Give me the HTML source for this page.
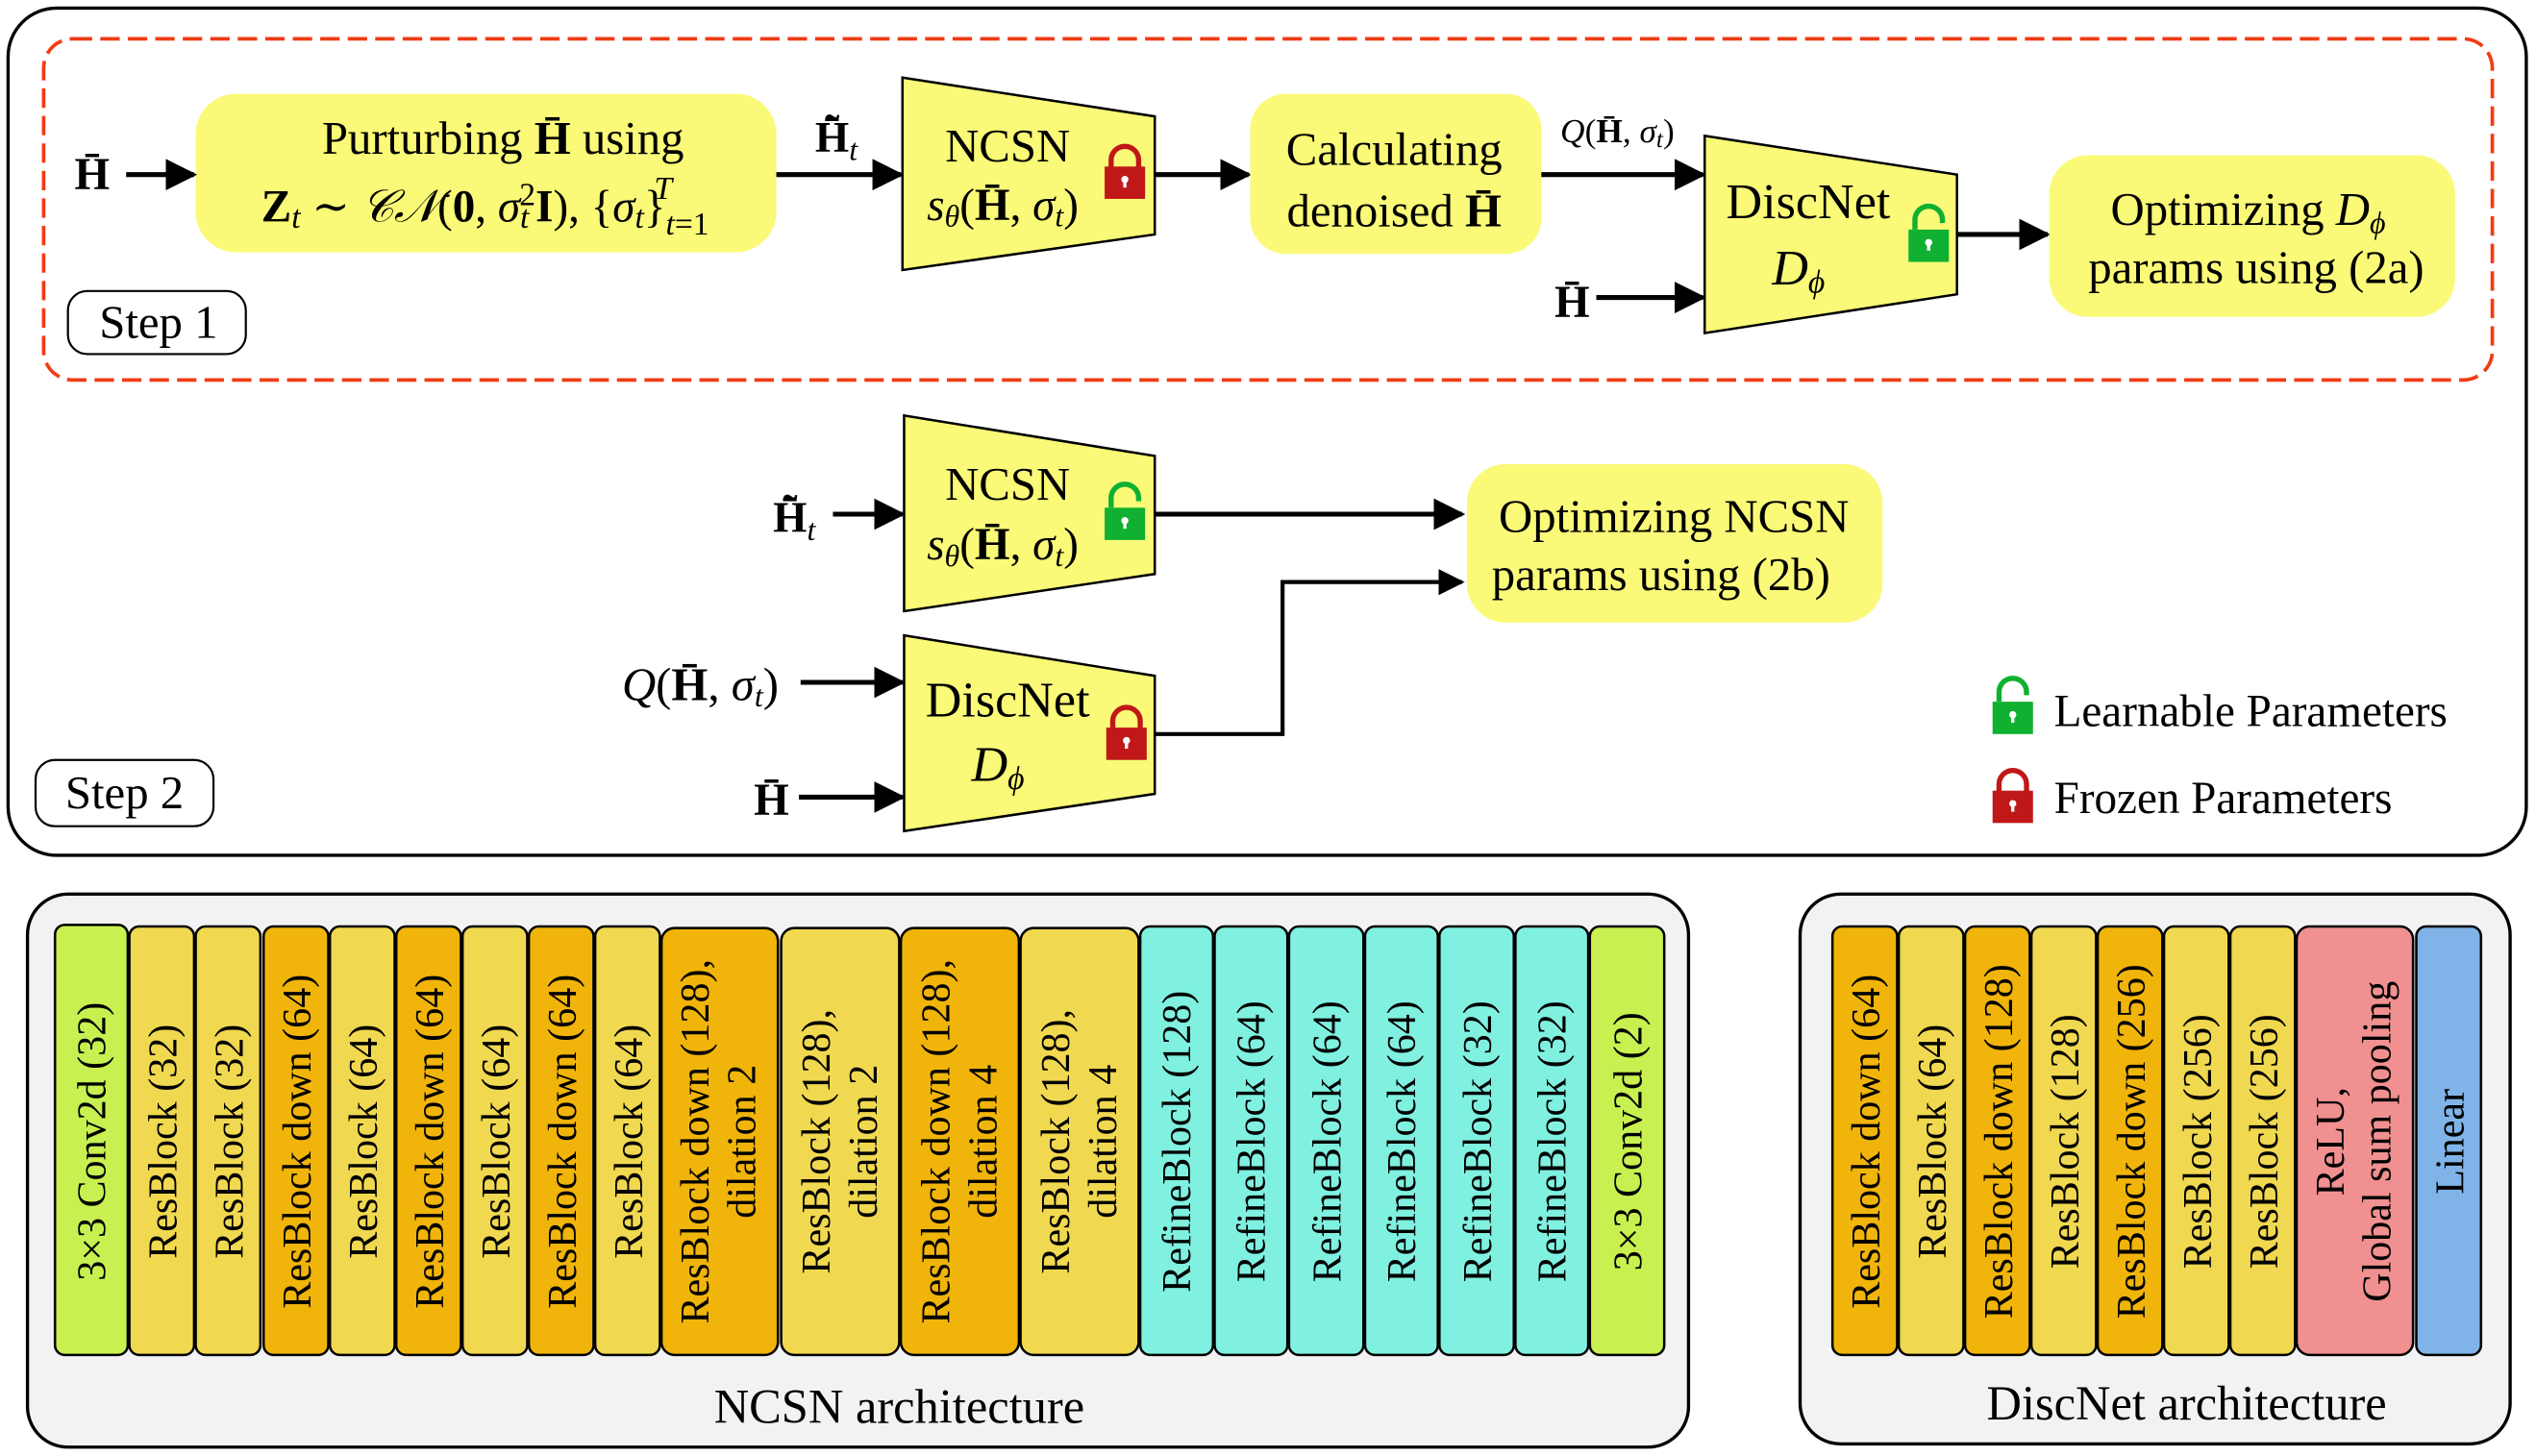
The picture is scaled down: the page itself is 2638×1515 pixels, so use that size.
<!DOCTYPE html>
<html><head><meta charset="utf-8"><style>
html,body{margin:0;padding:0;background:#fff}
svg{display:block}
svg text{font-family:"Liberation Serif","DejaVu Serif",serif;fill:#000}
.i{font-style:italic}
.b{font-weight:bold}
</style></head><body>
<svg width="2638" height="1515" viewBox="0 0 1568 900.5" preserveAspectRatio="none" xmlns="http://www.w3.org/2000/svg" font-family="Liberation Serif, DejaVu Serif, serif">
<defs>
<marker id="ah" viewBox="0 0 10 10" refX="9" refY="5" markerWidth="6.5" markerHeight="6.5" orient="auto"><path d="M0,0 L10,5 L0,10 z" fill="#000"/></marker>
<g id="lockR"><path d="M4,14 V9 A8.5,8.5 0 0 1 21,9 V14" fill="none" stroke="#c01818" stroke-width="3.2"/><rect x="0" y="13" width="25" height="20" fill="#c01818"/><circle cx="12.5" cy="21" r="2.2" fill="#fff"/><rect x="11.5" y="21" width="2" height="5" fill="#fff"/></g>
<g id="lockG"><path d="M4,13 V7 A8.5,8.5 0 0 1 21,7 V9" fill="none" stroke="#10b030" stroke-width="3.2"/><rect x="0" y="13" width="25" height="20" fill="#10b030"/><circle cx="12.5" cy="21" r="2.2" fill="#fff"/><rect x="11.5" y="21" width="2" height="5" fill="#fff"/></g>
</defs>
<rect x="5" y="5" width="1557" height="524" rx="30" fill="#fff" stroke="#000" stroke-width="2"/>
<rect x="27" y="24" width="1514" height="211" rx="18" fill="none" stroke="#f03c14" stroke-width="2.2" stroke-dasharray="12,5"/>

<rect x="121" y="58" width="359" height="98" rx="25" fill="#fafa78"/>
<text x="311" y="95" font-size="29" text-anchor="middle">Purturbing <tspan class="b">H̄</tspan> using</text>
<text x="300" y="137" font-size="28" text-anchor="middle"><tspan class="b">Z</tspan><tspan class="i" font-size="20" dy="4">t</tspan><tspan dy="-4"> ∼ </tspan><tspan class="i">𝒞𝒩</tspan>(<tspan class="b">0</tspan>, <tspan class="i">σ</tspan><tspan class="i" font-size="20" dy="4">t</tspan><tspan font-size="20" dy="-14" dx="-6">2</tspan><tspan class="b" dy="10">I</tspan>), {<tspan class="i">σ</tspan><tspan class="i" font-size="20" dy="4">t</tspan><tspan dy="-4">}</tspan><tspan class="i" font-size="20" dy="8">t</tspan><tspan font-size="20">=1</tspan><tspan class="i" font-size="20" dy="-22" dx="-34">T</tspan></text>
<text x="57" y="117" font-size="28" text-anchor="middle" class="b">H̄</text>
<line x1="78" y1="108" x2="120" y2="108" stroke="#000" stroke-width="3" marker-end="url(#ah)"/>
<line x1="480" y1="108" x2="557" y2="108" stroke="#000" stroke-width="3" marker-end="url(#ah)"/>
<text x="504" y="94" font-size="27" class="b">H̄̃<tspan class="i" font-weight="normal" font-size="19" dy="5">t</tspan></text>

<polygon points="558,48 714,72 714,145 558,167" fill="#fafa78" stroke="#000" stroke-width="1.5"/>
<text x="623" y="100" font-size="29" text-anchor="middle">NCSN</text>
<text x="620" y="136" font-size="28" text-anchor="middle"><tspan class="i">s</tspan><tspan class="i" font-size="19" dy="4">θ</tspan><tspan dy="-4">(</tspan><tspan class="b">H̄</tspan>, <tspan class="i">σ</tspan><tspan class="i" font-size="19" dy="4">t</tspan><tspan dy="-4">)</tspan></text>
<use href="#lockR" x="683" y="90"/>
<line x1="714" y1="108" x2="772" y2="108" stroke="#000" stroke-width="3" marker-end="url(#ah)"/>

<rect x="773" y="58" width="180" height="99" rx="22" fill="#fafa78"/>
<text x="862" y="102" font-size="29" text-anchor="middle">Calculating</text>
<text x="862" y="140" font-size="29" text-anchor="middle">denoised <tspan class="b">H̄</tspan></text>
<line x1="953" y1="108" x2="1053" y2="108" stroke="#000" stroke-width="3" marker-end="url(#ah)"/>
<text x="1000" y="88" font-size="21" text-anchor="middle"><tspan class="i">Q</tspan>(<tspan class="b">H̄</tspan>, <tspan class="i">σ</tspan><tspan class="i" font-size="15" dy="3">t</tspan><tspan dy="-3">)</tspan></text>

<polygon points="1054,84 1210,108 1210,182 1054,206" fill="#fafa78" stroke="#000" stroke-width="1.5"/>
<text x="1118" y="135" font-size="31" text-anchor="middle">DiscNet</text>
<text x="1112" y="176" font-size="31" text-anchor="middle" class="i">D<tspan font-size="20" dy="5">ϕ</tspan></text>
<use href="#lockG" x="1180" y="129"/>
<text x="972" y="196" font-size="28" text-anchor="middle" class="b">H̄</text>
<line x1="987" y1="184" x2="1053" y2="184" stroke="#000" stroke-width="3" marker-end="url(#ah)"/>
<line x1="1210" y1="145" x2="1266" y2="145" stroke="#000" stroke-width="3" marker-end="url(#ah)"/>

<rect x="1267" y="96" width="251" height="100" rx="24" fill="#fafa78"/>
<text x="1390" y="139" font-size="29" text-anchor="middle">Optimizing <tspan class="i">D</tspan><tspan class="i" font-size="19" dy="5">ϕ</tspan></text>
<text x="1395" y="175" font-size="29" text-anchor="middle">params using (2a)</text>

<rect x="42" y="180" width="110" height="39" rx="12" fill="#fff" stroke="#000" stroke-width="1.3"/>
<text x="98" y="209" font-size="29" text-anchor="middle">Step 1</text>

<polygon points="559,257 714,282 714,355 559,378" fill="#fafa78" stroke="#000" stroke-width="1.5"/>
<text x="623" y="309" font-size="29" text-anchor="middle">NCSN</text>
<text x="620" y="346" font-size="28" text-anchor="middle"><tspan class="i">s</tspan><tspan class="i" font-size="19" dy="4">θ</tspan><tspan dy="-4">(</tspan><tspan class="b">H̄</tspan>, <tspan class="i">σ</tspan><tspan class="i" font-size="19" dy="4">t</tspan><tspan dy="-4">)</tspan></text>
<use href="#lockG" x="683" y="301"/>
<text x="478" y="329" font-size="27" class="b">H̄̃<tspan class="i" font-weight="normal" font-size="19" dy="5">t</tspan></text>
<line x1="515" y1="318" x2="558" y2="318" stroke="#000" stroke-width="3" marker-end="url(#ah)"/>
<line x1="714" y1="318" x2="904" y2="318" stroke="#000" stroke-width="3" marker-end="url(#ah)"/>

<rect x="907" y="287" width="257" height="98" rx="24" fill="#fafa78"/>
<text x="1035" y="329" font-size="29" text-anchor="middle">Optimizing NCSN</text>
<text x="1027" y="365" font-size="29" text-anchor="middle">params using (2b)</text>

<polygon points="559,393 714,418 714,491 559,514" fill="#fafa78" stroke="#000" stroke-width="1.5"/>
<text x="623" y="443" font-size="31" text-anchor="middle">DiscNet</text>
<text x="617" y="483" font-size="31" text-anchor="middle" class="i">D<tspan font-size="20" dy="5">ϕ</tspan></text>
<use href="#lockR" x="684" y="437"/>
<text x="433" y="433" font-size="29" text-anchor="middle"><tspan class="i">Q</tspan>(<tspan class="b">H̄</tspan>, <tspan class="i">σ</tspan><tspan class="i" font-size="19" dy="4">t</tspan><tspan dy="-4">)</tspan></text>
<line x1="495" y1="422" x2="558" y2="422" stroke="#000" stroke-width="3" marker-end="url(#ah)"/>
<text x="477" y="504" font-size="28" text-anchor="middle" class="b">H̄</text>
<line x1="494" y1="493" x2="558" y2="493" stroke="#000" stroke-width="3" marker-end="url(#ah)"/>
<polyline points="714,454 793,454 793,360 904,360" fill="none" stroke="#000" stroke-width="2.5" marker-end="url(#ah)"/>

<use href="#lockG" x="1232" y="421"/>
<text x="1270" y="449" font-size="28">Learnable Parameters</text>
<use href="#lockR" x="1232" y="476"/>
<text x="1270" y="503" font-size="28">Frozen Parameters</text>

<rect x="22" y="470" width="110" height="41" rx="12" fill="#fff" stroke="#000" stroke-width="1.3"/>
<text x="77" y="500" font-size="29" text-anchor="middle">Step 2</text>

<rect x="17" y="553" width="1027" height="342" rx="25" fill="#f2f2f2" stroke="#000" stroke-width="2"/>
<text x="556" y="880" font-size="30" text-anchor="middle">NCSN architecture</text>
<g stroke="#000" stroke-width="1.5">
<rect x="34" y="572" width="45" height="266" rx="6" fill="#c8f050"/>
<rect x="80" y="573" width="40" height="265" rx="6" fill="#f0d850"/>
<rect x="121" y="573" width="40" height="265" rx="6" fill="#f0d850"/>
<rect x="163" y="573" width="40" height="265" rx="6" fill="#f0b40a"/>
<rect x="204" y="573" width="40" height="265" rx="6" fill="#f0d850"/>
<rect x="245" y="573" width="40" height="265" rx="6" fill="#f0b40a"/>
<rect x="286" y="573" width="40" height="265" rx="6" fill="#f0d850"/>
<rect x="327" y="573" width="40" height="265" rx="6" fill="#f0b40a"/>
<rect x="368" y="573" width="40" height="265" rx="6" fill="#f0d850"/>
<rect x="409" y="574" width="72" height="264" rx="8" fill="#f0b40a"/>
<rect x="483" y="574" width="73" height="264" rx="8" fill="#f0d850"/>
<rect x="557" y="574" width="73" height="264" rx="8" fill="#f0b40a"/>
<rect x="631" y="574" width="73" height="264" rx="8" fill="#f0d850"/>
<rect x="705" y="573" width="45" height="265" rx="6" fill="#80f0e0"/>
<rect x="751" y="573" width="45" height="265" rx="6" fill="#80f0e0"/>
<rect x="797" y="573" width="46" height="265" rx="6" fill="#80f0e0"/>
<rect x="844" y="573" width="45" height="265" rx="6" fill="#80f0e0"/>
<rect x="890" y="573" width="46" height="265" rx="6" fill="#80f0e0"/>
<rect x="937" y="573" width="45" height="265" rx="6" fill="#80f0e0"/>
<rect x="983" y="573" width="46" height="265" rx="6" fill="#c8f050"/>
</g>
<g font-size="25" text-anchor="middle">
<text transform="translate(65,706) rotate(-90)">3×3 Conv2d (32)</text>
<text transform="translate(109,706) rotate(-90)">ResBlock (32)</text>
<text transform="translate(150,706) rotate(-90)">ResBlock (32)</text>
<text transform="translate(192,706) rotate(-90)">ResBlock down (64)</text>
<text transform="translate(233,706) rotate(-90)">ResBlock (64)</text>
<text transform="translate(274,706) rotate(-90)">ResBlock down (64)</text>
<text transform="translate(315,706) rotate(-90)">ResBlock (64)</text>
<text transform="translate(356,706) rotate(-90)">ResBlock down (64)</text>
<text transform="translate(397,706) rotate(-90)">ResBlock (64)</text>
<text transform="translate(438,706) rotate(-90)">ResBlock down (128),</text>
<text transform="translate(467,706) rotate(-90)">dilation 2</text>
<text transform="translate(513,706) rotate(-90)">ResBlock (128),</text>
<text transform="translate(542,706) rotate(-90)">dilation 2</text>
<text transform="translate(587,706) rotate(-90)">ResBlock down (128),</text>
<text transform="translate(616,706) rotate(-90)">dilation 4</text>
<text transform="translate(661,706) rotate(-90)">ResBlock (128),</text>
<text transform="translate(690,706) rotate(-90)">dilation 4</text>
<text transform="translate(736,706) rotate(-90)">RefineBlock (128)</text>
<text transform="translate(782,706) rotate(-90)">RefineBlock (64)</text>
<text transform="translate(829,706) rotate(-90)">RefineBlock (64)</text>
<text transform="translate(875,706) rotate(-90)">RefineBlock (64)</text>
<text transform="translate(922,706) rotate(-90)">RefineBlock (32)</text>
<text transform="translate(968,706) rotate(-90)">RefineBlock (32)</text>
<text transform="translate(1015,706) rotate(-90)">3×3 Conv2d (2)</text>
</g>

<rect x="1113" y="553" width="439" height="340" rx="25" fill="#f2f2f2" stroke="#000" stroke-width="2"/>
<text x="1352" y="878" font-size="30" text-anchor="middle">DiscNet architecture</text>
<g stroke="#000" stroke-width="1.5">
<rect x="1133" y="573" width="40" height="265" rx="6" fill="#f0b40a"/>
<rect x="1174" y="573" width="40" height="265" rx="6" fill="#f0d850"/>
<rect x="1215" y="573" width="40" height="265" rx="6" fill="#f0b40a"/>
<rect x="1256" y="573" width="40" height="265" rx="6" fill="#f0d850"/>
<rect x="1297" y="573" width="40" height="265" rx="6" fill="#f0b40a"/>
<rect x="1338" y="573" width="40" height="265" rx="6" fill="#f0d850"/>
<rect x="1379" y="573" width="40" height="265" rx="6" fill="#f0d850"/>
<rect x="1420" y="573" width="72" height="265" rx="8" fill="#f09090"/>
<rect x="1494" y="573" width="40" height="265" rx="6" fill="#80b4e8"/>
</g>
<g font-size="25" text-anchor="middle">
<text transform="translate(1162,706) rotate(-90)">ResBlock down (64)</text>
<text transform="translate(1203,706) rotate(-90)">ResBlock (64)</text>
<text transform="translate(1244,706) rotate(-90)">ResBlock down (128)</text>
<text transform="translate(1285,706) rotate(-90)">ResBlock (128)</text>
<text transform="translate(1326,706) rotate(-90)">ResBlock down (256)</text>
<text transform="translate(1367,706) rotate(-90)">ResBlock (256)</text>
<text transform="translate(1408,706) rotate(-90)">ResBlock (256)</text>
<text transform="translate(1449,706) rotate(-90)">ReLU,</text>
<text transform="translate(1478,706) rotate(-90)">Global sum pooling</text>
<text transform="translate(1523,706) rotate(-90)">Linear</text>
</g>
</svg>
</body></html>
